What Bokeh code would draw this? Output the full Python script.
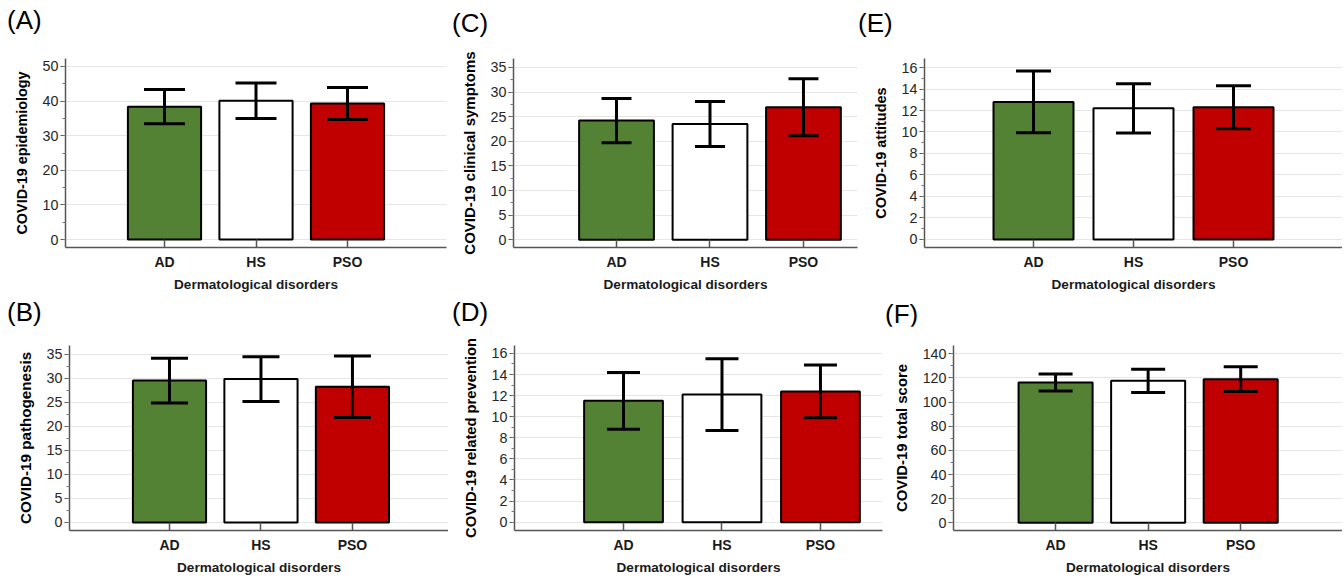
from bokeh.plotting import figure
from bokeh.models import (ColumnDataSource, Range1d, FixedTicker, SingleIntervalTicker,
                          Whisker, TeeHead, Div)
from bokeh.layouts import column, row
from bokeh.embed import file_html
from bokeh.resources import INLINE

# ---------------- data ----------------
categories = ["AD", "HS", "PSO"]
bar_colors = ["#548235", "#FFFFFF", "#C00000"]

epidemiology_mean = [38.4, 40.1, 39.3]
epidemiology_sd = [4.95, 5.15, 4.6]
pathogenesis_mean = [29.5, 29.8, 28.2]
pathogenesis_sd = [4.65, 4.65, 6.4]
symptoms_mean = [24.2, 23.5, 26.9]
symptoms_sd = [4.5, 4.55, 5.8]
prevention_mean = [11.5, 12.1, 12.4]
prevention_sd = [2.7, 3.4, 2.5]
attitudes_mean = [12.8, 12.2, 12.3]
attitudes_sd = [2.87, 2.3, 2.0]
total_mean = [116.2, 117.6, 119.0]
total_sd = [7.05, 9.6, 10.3]

x_label = "Dermatological disorders"
panel_tags_top = ["(A)", "(C)", "(E)"]
panel_tags_bottom = ["(B)", "(D)", "(F)"]

FONT = "Liberation Sans"
TOTAL_W = 1342


def panel(ylabel, means, sds, interval, yr, xr, w, h, borders, cap, ylab_size):
    bl, br, bt, bb = borders
    xs = [i + 1 for i in range(len(categories))]
    src = ColumnDataSource(dict(
        x=xs, mean=means,
        lower=[m - s for m, s in zip(means, sds)],
        upper=[m + s for m, s in zip(means, sds)],
        color=bar_colors,
    ))
    p = figure(width=w, height=h, output_backend="svg", toolbar_location=None,
               x_range=Range1d(*xr), y_range=Range1d(*yr),
               min_border_left=bl, min_border_right=br,
               min_border_top=bt, min_border_bottom=bb)
    p.outline_line_color = None
    p.background_fill_color = "white"
    p.border_fill_color = "white"

    p.vbar(x="x", top="mean", bottom=0, width=0.8, source=src,
           fill_color="color", line_color="black", line_width=2)

    wk = Whisker(base="x", lower="lower", upper="upper", source=src, level="overlay",
                 line_color="black", line_width=3,
                 upper_head=TeeHead(size=cap, line_color="black", line_width=3),
                 lower_head=TeeHead(size=cap, line_color="black", line_width=3))
    p.add_layout(wk)

    # x axis
    xa = p.xaxis[0]
    xa.ticker = FixedTicker(ticks=xs)
    xa.major_label_overrides = {x: c for x, c in zip(xs, categories)}
    xa.major_tick_in = 8
    xa.major_tick_out = 0
    xa.minor_tick_line_color = None
    xa.axis_line_color = "#555555"
    xa.axis_line_width = 1.5
    xa.major_tick_line_color = "#555555"
    xa.major_tick_line_width = 1.5
    xa.major_label_text_font = FONT
    xa.major_label_text_font_style = "bold"
    xa.major_label_text_font_size = "14px"
    xa.major_label_text_color = "#1a1a1a"
    xa.major_label_standoff = 6
    xa.axis_label = x_label
    xa.axis_label_text_font = FONT
    xa.axis_label_text_font_style = "bold"
    xa.axis_label_text_font_size = "13.6px"
    xa.axis_label_text_color = "#1a1a1a"
    xa.axis_label_standoff = 4

    # y axis
    ya = p.yaxis[0]
    ya.ticker = SingleIntervalTicker(interval=interval, num_minor_ticks=2)
    ya.major_tick_in = 0
    ya.major_tick_out = 5
    ya.minor_tick_in = 0
    ya.minor_tick_out = 3
    ya.axis_line_color = "#555555"
    ya.axis_line_width = 1.5
    ya.major_tick_line_color = "#555555"
    ya.major_tick_line_width = 1.2
    ya.minor_tick_line_color = "#777777"
    ya.minor_tick_line_width = 1
    ya.major_label_text_font = FONT
    ya.major_label_text_font_size = "14.3px"
    ya.major_label_text_color = "#262626"
    ya.major_label_standoff = 2
    ya.axis_label = ylabel
    ya.axis_label_text_font = FONT
    ya.axis_label_text_font_style = "bold"
    ya.axis_label_text_font_size = ylab_size
    ya.axis_label_text_color = "black"
    ya.axis_label_standoff = 10

    p.xgrid.grid_line_color = None
    p.ygrid.grid_line_color = "#e6e6e6"
    p.ygrid.grid_line_width = 1
    return p


def tag_strip(tags, lefts, tops, h):
    spans = "".join(
        f'<span style="position:absolute;left:{l}px;top:{t}px;line-height:26px;'
        f'font-size:26px;font-family:\'{FONT}\';color:black;white-space:nowrap">{s}</span>'
        for s, l, t in zip(tags, lefts, tops))
    html = f'<div style="position:relative;width:{TOTAL_W}px;height:{h}px">{spans}</div>'
    return Div(text=html, width=TOTAL_W, height=h, margin=0)


H1, H2 = 256, 251

pA = panel("COVID-19 epidemiology", epidemiology_mean, epidemiology_sd, 10,
           (-2.31, 52.31), (-0.082, 4.082), 448, H1, (65, 2, 18, 49), 41, "14.4px")
pC = panel("COVID-19 clinical symptoms", symptoms_mean, symptoms_sd, 5,
           (-1.55, 36.8), (-0.102, 3.578), 410, H1, (65, 1, 9, 49), 30, "15px")
pE = panel("COVID-19 attitudes", attitudes_mean, attitudes_sd, 2,
           (-0.75, 16.84), (-0.09, 4.09), 484, H1, (66, 0, 13, 49), 35, "14.5px")

pB = panel("COVID-19 pathogenesis", pathogenesis_mean, pathogenesis_sd, 5,
           (-1.67, 36.79), (-0.093, 4.05), 448, H2, (69, 0, 7, 44), 37, "15.2px")
pD = panel("COVID-19 related prevention", prevention_mean, prevention_sd, 2,
           (-0.79, 16.75), (-0.107, 3.63), 437, H2, (66, 3, 13, 44), 33, "14.75px")
pF = panel("COVID-19 total score", total_mean, total_sd, 20,
           (-6.4, 146.9), (-0.103, 4.10), 457, H2, (68, 0, 19, 47), 34, "14.9px")

top_tags = tag_strip(panel_tags_top, [7, 452, 858], [7, 10, 10], 40)
bottom_tags = tag_strip(panel_tags_bottom, [7, 452, 885], [3, 3, 5], 30)

layout = column(top_tags, row(pA, pC, pE), bottom_tags, row(pB, pD, pF), spacing=0)

open("out.html", "w").write(file_html(layout, INLINE))
